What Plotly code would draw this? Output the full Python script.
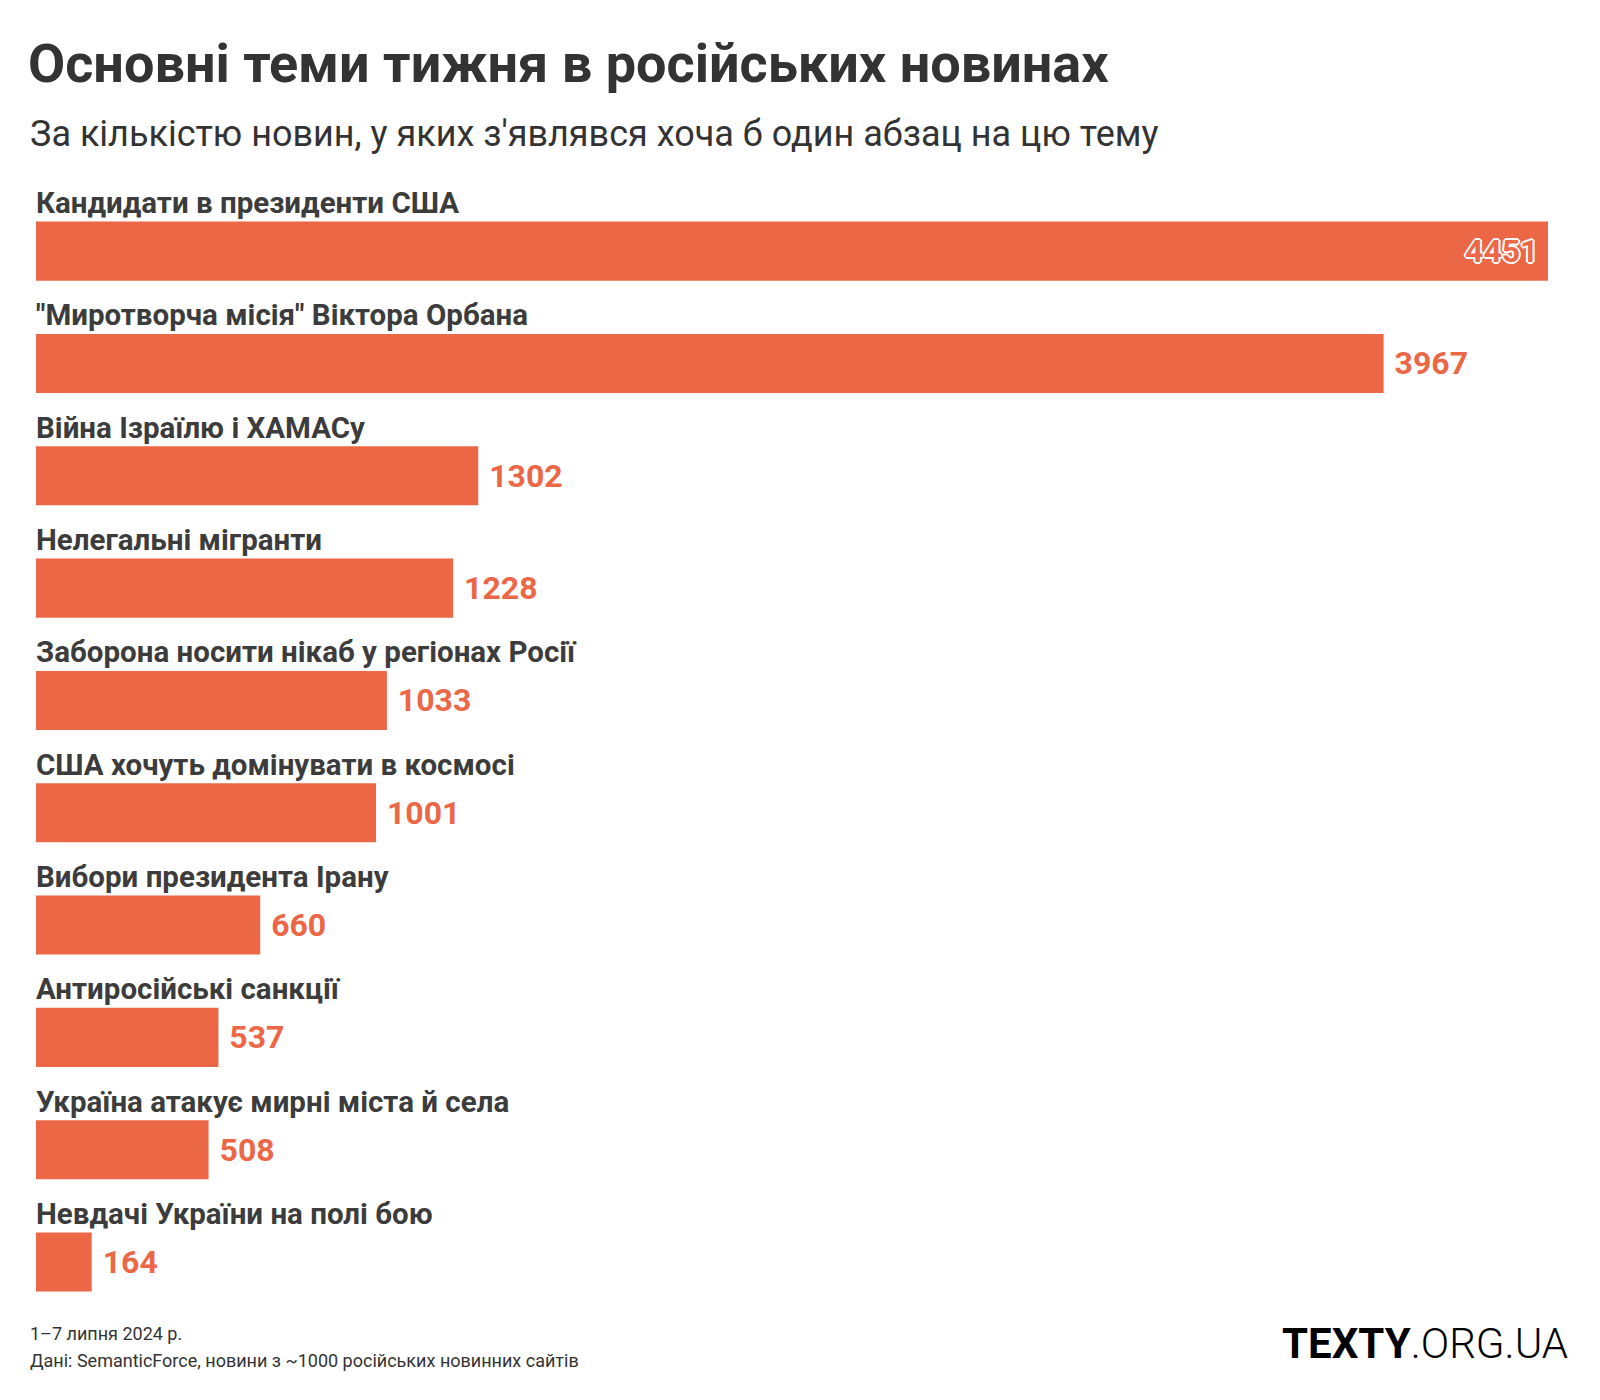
import plotly.graph_objects as go

categories = [
    "Кандидати в президенти США",
    "\"Миротворча місія\" Віктора Орбана",
    "Війна Ізраїлю і ХАМАСу",
    "Нелегальні мігранти",
    "Заборона носити нікаб у регіонах Росії",
    "США хочуть домінувати в космосі",
    "Вибори президента Ірану",
    "Антиросійські санкції",
    "Україна атакує мирні міста й села",
    "Невдачі України на полі бою",
]
values = [4451, 3967, 1302, 1228, 1033, 1001, 660, 537, 508, 164]

title_text = "Основні теми тижня в російських новинах"
subtitle_text = "За кількістю новин, у яких з'являвся хоча б один абзац на цю тему"
footer_lines = ["1–7 липня 2024 р.", "Дані: SemanticForce, новини з ~1000 російських новинних сайтів"]
logo_bold = "TEXTY"
logo_light = ".ORG.UA"

OFF = 8  # page body margin
W, H = 1600, 1400
ML, MR, MT, MB = 36 - OFF, 52 + OFF, 195 - OFF, 71 + OFF
BAR = "#EC6746"
FONT = "Roboto"

def px_x(px):
    return (px - OFF - ML) / (W - ML - MR)

def px_y(py):
    return 1 - (py - OFF - MT) / (H - MT - MB)

positions = ["inside"] + ["outside"] * (len(values) - 1)
labels = [(f"{v}\u2009" if p == "inside" else f"\u00a0{v}") for v, p in zip(values, positions)]

fig = go.Figure(go.Bar(
    x=values, y=categories, orientation="h",
    marker=dict(color=BAR, line=dict(width=0)),
    text=labels,
    textposition=positions,
    insidetextanchor="end",
    constraintext="none",
    cliponaxis=False,
    insidetextfont=dict(family=FONT, size=32, color=BAR, weight="bold",
                        shadow="1px 1px 0 #fff, -1px -1px 0 #fff, 1px -1px 0 #fff, -1px 1px 0 #fff, 2px 0 0 #fff, -2px 0 0 #fff, 0 2px 0 #fff, 0 -2px 0 #fff"),
    outsidetextfont=dict(family=FONT, size=32, color=BAR, weight="bold"),
    hoverinfo="skip",
))

annotations = []
for c in categories:
    annotations.append(dict(
        x=0, y=c, xref="x", yref="y", text=c, showarrow=False,
        xanchor="left", yanchor="middle", yshift=48, xshift=-2,
        font=dict(family=FONT, size=29.5, color="#3c3c3c", weight="bold"),
    ))

annotations.append(dict(
    x=px_x(28), y=px_y(134), xref="paper", yref="paper", text=subtitle_text,
    showarrow=False, xanchor="left", yanchor="middle",
    font=dict(family=FONT, size=36, color="#333333", weight=400),
))
for i, line in enumerate(footer_lines):
    annotations.append(dict(
        x=px_x(28), y=px_y(1333 + 27 * i), xref="paper", yref="paper", text=line,
        showarrow=False, xanchor="left", yanchor="middle",
        font=dict(family=FONT, size=18, color="#333333"),
    ))
annotations.append(dict(
    x=px_x(1570), y=px_y(1343), xref="paper", yref="paper",
    text=f"<b>{logo_bold}</b><span style=\"font-weight:300\">{logo_light}</span>",
    showarrow=False, xanchor="right", yanchor="middle",
    font=dict(family=FONT, size=42, color="#000000"),
))

fig.update_layout(
    width=W, height=H,
    margin=dict(l=ML, r=MR, t=MT, b=MB, autoexpand=False),
    paper_bgcolor="white", plot_bgcolor="white",
    bargap=0.474,
    showlegend=False,
    title=dict(text=title_text, x=(28 - OFF) / W, xanchor="left", xref="container",
               y=1 - (63 - OFF) / H, yanchor="middle", yref="container",
               font=dict(family=FONT, size=54, color="#333333", weight="bold")),
    xaxis=dict(range=[0, max(values)], visible=False, fixedrange=True, automargin=False),
    yaxis=dict(autorange="reversed", visible=False, fixedrange=True, automargin=False),
    annotations=annotations,
)

fig.write_html("out.html")
